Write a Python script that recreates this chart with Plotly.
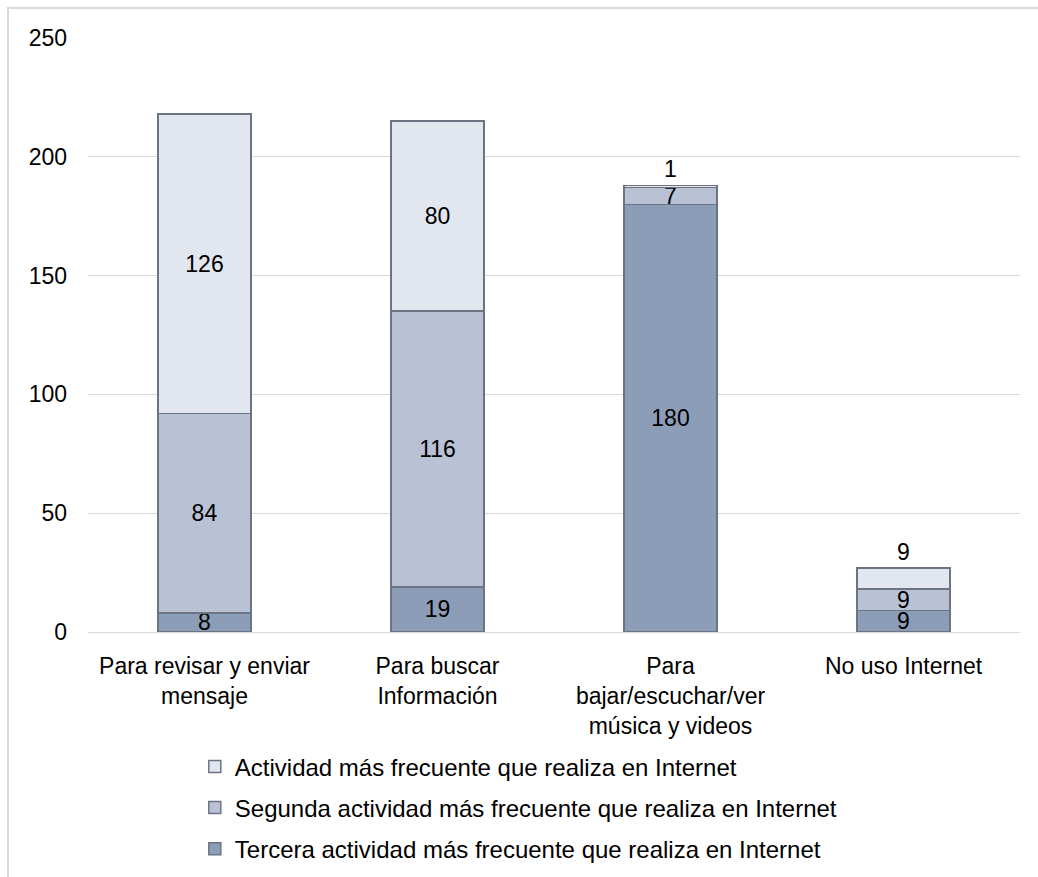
import plotly.graph_objects as go

categories = [
    "Para revisar y enviar<br>mensaje",
    "Para buscar<br>Información",
    "Para<br>bajar/escuchar/ver<br>música y videos",
    "No uso Internet",
]

tercera = [8, 19, 180, 9]
segunda = [84, 116, 7, 9]
primera = [126, 80, 1, 9]

series_names = [
    "Tercera actividad más frecuente que realiza en Internet",
    "Segunda actividad más frecuente que realiza en Internet",
    "Actividad más frecuente que realiza en Internet",
]
series_colors = ["#8c9db8", "#b8c2d4", "#e1e6ef"]
top_text_pos = ["inside", "inside", "outside", "outside"]

FONT = "Liberation Sans, Arial, sans-serif"
edge = dict(color="#6c7383", width=1.5)

# page geometry (px): plot area from y=38 to y=632, x from 88 to 1020
W, H = 1038, 877
TOP, BOTTOM = 38, 0
PAPER_H = H - TOP - BOTTOM


def py(px):
    """Convert a page pixel row to paper y."""
    return (H - BOTTOM - px) / PAPER_H


fig = go.Figure()
for i, (name, vals, color) in enumerate(
    zip(series_names, [tercera, segunda, primera], series_colors)
):
    fig.add_trace(
        go.Bar(
            x=categories,
            y=vals,
            name=name,
            legendgroup=f"g{i}",
            legendrank=3 - i,
            marker=dict(color=color, line=edge),
            text=[str(v) for v in vals],
            textposition=top_text_pos if i == 2 else "inside",
            insidetextanchor="middle",
            textangle=0,
            constraintext="none",
            textfont=dict(family=FONT, size=23, color="#000000"),
            cliponaxis=False,
        )
    )

fig.update_layout(
    width=W,
    height=H,
    barmode="stack",
    bargap=0.6,
    plot_bgcolor="white",
    paper_bgcolor="white",
    margin=dict(l=88, r=18, t=TOP, b=BOTTOM, autoexpand=False),
    font=dict(family=FONT, size=23, color="#000000"),
    showlegend=True,
    legend=dict(
        orientation="v",
        traceorder="grouped",
        tracegroupgap=7,
        x=0.1146,
        xanchor="left",
        y=0.0068,
        yanchor="bottom",
        font=dict(family=FONT, size=24, color="#000000"),
        bgcolor="rgba(0,0,0,0)",
    ),
    xaxis=dict(
        showgrid=False,
        showline=False,
        ticks="",
        ticklabelstandoff=18,
        tickfont=dict(family=FONT, size=23),
        tickangle=0,
        automargin=False,
    ),
    yaxis=dict(
        domain=[py(632), 1],
        range=[0, 250],
        dtick=50,
        showgrid=True,
        gridcolor="#d9d9d9",
        gridwidth=1,
        zeroline=True,
        zerolinecolor="#d9d9d9",
        zerolinewidth=1,
        showline=False,
        ticks="",
        ticklabelstandoff=20,
        tickfont=dict(family=FONT, size=23),
        automargin=False,
    ),
    shapes=[
        dict(
            type="rect",
            xref="paper",
            yref="paper",
            x0=-80 / 932,
            x1=1.1,
            y0=-0.1,
            y1=py(8),
            line=dict(color="#d9d9d9", width=2),
            fillcolor="rgba(0,0,0,0)",
            layer="below",
        )
    ],
)

fig.write_html("out.html")
